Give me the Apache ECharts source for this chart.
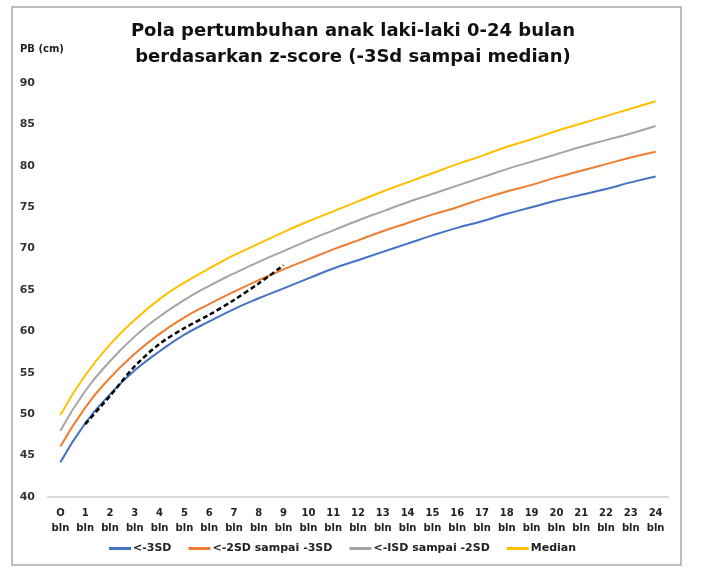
<!DOCTYPE html>
<html>
<head>
<meta charset="utf-8">
<script src="https://cdn.jsdelivr.net/npm/echarts@6/dist/echarts.min.js"></script>
<style>
  html, body { margin: 0; padding: 0; background: #fff; }
  #Chart { width: 720px; height: 569px; }
</style>
</head>
<body>
<div id="Chart"></div>
<script>
// bulan 0..24
var months = ['0', '1', '2', '3', '4', '5', '6', '7', '8', '9', '10', '11', '12',
  '13', '14', '15', '16', '17', '18', '19', '20', '21', '22', '23', '24'];

var sd3 = [44.2, 48.9, 52.4, 55.3, 57.6, 59.6, 61.2, 62.7, 64.0, 65.2, 66.4, 67.6, 68.6,
  69.6, 70.6, 71.6, 72.5, 73.3, 74.2, 75.0, 75.8, 76.5, 77.2, 78.0, 78.7];
var sd2 = [46.1, 50.8, 54.4, 57.3, 59.7, 61.7, 63.3, 64.8, 66.2, 67.5, 68.7, 69.9, 71.0,
  72.1, 73.1, 74.1, 75.0, 76.0, 76.9, 77.7, 78.6, 79.4, 80.2, 81.0, 81.7];
var sd1 = [48.0, 52.8, 56.4, 59.4, 61.8, 63.8, 65.5, 67.0, 68.4, 69.7, 71.0, 72.2, 73.4,
  74.5, 75.6, 76.6, 77.6, 78.6, 79.6, 80.5, 81.4, 82.3, 83.1, 83.9, 84.8];
var median = [49.9, 54.7, 58.4, 61.4, 63.9, 65.9, 67.6, 69.2, 70.6, 72.0, 73.3, 74.5, 75.7,
  76.9, 78.0, 79.1, 80.2, 81.2, 82.3, 83.2, 84.2, 85.1, 86.0, 86.9, 87.8];
// garis putus-putus (anak), bulan 1..9
var anak = ['-', 48.8, 52.2, 55.8, 58.5, 60.4, 62.0, 63.8, 65.8, 68.0];

var seriesNames = ['<-3SD', '<-2SD sampai -3SD', '<-ISD sampai -2SD', 'Median'];
var colors = ['#4472C4', '#ED7D31', '#A5A5A5', '#FFC000'];

var font = '"DejaVu Sans", sans-serif';
var myChart = echarts.init(document.getElementById('Chart'));

function lineSeries(name, data, color) {
  return {
    name: name,
    type: 'line',
    data: data,
    symbol: 'none',
    smooth: true,
    lineStyle: { color: color, width: 2 },
    itemStyle: { color: color },
    z: 2
  };
}

var option = {
  animation: false,
  backgroundColor: '#fff',
  title: {
    text: 'Pola pertumbuhan anak laki-laki 0-24 bulan\nberdasarkan z-score (-3Sd sampai median)',
    left: 348,
    top: 13,
    textAlign: 'center',
    textStyle: { fontFamily: font, fontSize: 18, fontWeight: 'bold', color: '#111', lineHeight: 26 }
  },
  graphic: [
    {
      type: 'rect',
      shape: { x: 12, y: 7, width: 669, height: 558 },
      style: { fill: 'none', stroke: '#aaa', lineWidth: 1.5 },
      silent: true
    },
    {
      type: 'text',
      left: 20,
      top: 44,
      style: { text: 'PB (cm)', fontFamily: font, fontSize: 10, fontWeight: 'bold', fill: '#222' }
    }
  ],
  legend: {
    data: seriesNames,
    bottom: 10,
    left: 104,
    itemWidth: 22,
    itemHeight: 3,
    itemGap: 17,
    icon: 'rect',
    textStyle: { fontFamily: font, fontSize: 11, fontWeight: 'bold', color: '#222', padding: [0, 0, 0, -3] }
  },
  grid: { left: 48, right: 52, top: 83, bottom: 72 },
  xAxis: {
    type: 'category',
    data: months,
    boundaryGap: true,
    axisLine: { lineStyle: { color: '#d9d9d9', width: 2 } },
    axisTick: { show: false },
    axisLabel: {
      interval: 0,
      margin: 9,
      fontFamily: font,
      fontSize: 10,
      fontWeight: 'bold',
      color: '#222',
      lineHeight: 15,
      formatter: function (v) { return (v === '0' ? 'O' : v) + '\nbln'; }
    }
  },
  yAxis: {
    type: 'value',
    min: 40,
    max: 90,
    interval: 5,
    splitLine: { show: false },
    axisLine: { show: false },
    axisTick: { show: false },
    axisLabel: { margin: 13, fontFamily: font, fontSize: 11, fontWeight: 'bold', color: '#333' }
  },
  series: [
    lineSeries(seriesNames[0], sd3, colors[0]),
    lineSeries(seriesNames[1], sd2, colors[1]),
    lineSeries(seriesNames[2], sd1, colors[2]),
    lineSeries(seriesNames[3], median, colors[3]),
    {
      name: 'anak',
      type: 'line',
      data: anak,
      symbol: 'none',
      smooth: 0.3,
      lineStyle: { color: '#000', width: 2.5, type: [5, 3] },
      z: 5
    }
  ]
};

myChart.setOption(option);
</script>
</body>
</html>
